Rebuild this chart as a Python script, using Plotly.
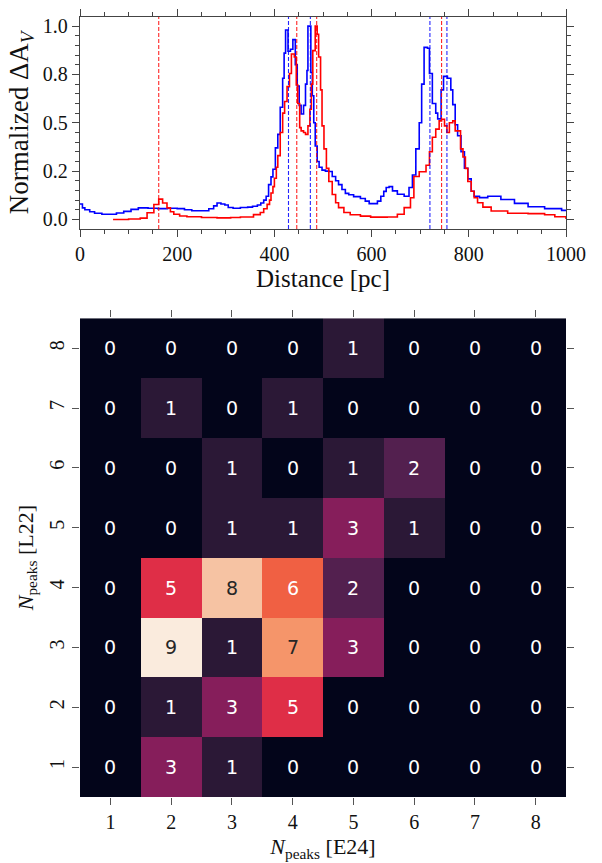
import plotly.graph_objects as go

# ---- Extinction profiles along the line of sight ----
# E24 (blue) and L22 (red): distance [pc] and normalized ΔA_V
dist_e24 = [0, 5, 10, 20, 30, 45, 60, 75, 90, 105, 120, 140, 160, 180, 200, 215, 230, 250,
            265, 275, 282, 290, 298, 305, 315, 330, 345, 355, 365, 372, 378, 383, 388, 393,
            397, 402, 407, 412, 417, 420, 423, 428, 433, 438, 443, 447, 451, 455, 460, 464,
            467, 469, 475, 478, 481, 484, 488, 492, 498, 505, 512, 519, 526, 532, 539, 546,
            553, 563, 577, 587, 595, 605, 612, 619, 625, 630, 636, 643, 653, 667, 677, 684,
            691, 698, 703, 708, 715, 719, 725, 732, 736, 743, 748, 756, 763, 767, 772, 777,
            784, 791, 798, 805, 811, 822, 839, 866, 894, 922, 956, 991, 1000]
dav_e24 = [0.08, 0.06, 0.05, 0.04, 0.032, 0.027, 0.027, 0.033, 0.042, 0.052, 0.06, 0.058,
           0.056, 0.058, 0.056, 0.05, 0.045, 0.045, 0.055, 0.07, 0.085, 0.08, 0.075, 0.062,
           0.058, 0.062, 0.064, 0.068, 0.075, 0.085, 0.1, 0.12, 0.18, 0.22, 0.26, 0.37, 0.44,
           0.58, 0.73, 0.86, 0.98, 0.87, 0.88, 0.93, 0.8, 0.69, 0.59, 0.545, 0.59, 0.7, 0.77,
           1.0, 0.76, 0.64, 0.5, 0.38, 0.3, 0.27, 0.255, 0.25, 0.248, 0.222, 0.2, 0.18, 0.155,
           0.135, 0.128, 0.118, 0.108, 0.095, 0.082, 0.082, 0.095, 0.12, 0.145, 0.165, 0.17,
           0.148, 0.13, 0.12, 0.165, 0.23, 0.365, 0.5, 0.7, 0.89, 0.885, 0.755, 0.6, 0.55,
           0.52, 0.67, 0.74, 0.73, 0.67, 0.594, 0.49, 0.433, 0.35, 0.265, 0.21, 0.146, 0.12,
           0.113, 0.12, 0.103, 0.083, 0.066, 0.056, 0.047, 0.047]

dist_l22 = [68, 100, 124, 138, 152, 162, 170, 179, 186, 193, 205, 220, 250, 282, 310, 330,
            357, 371, 378, 385, 390, 393, 397, 400, 404, 407, 412, 417, 421, 426, 431, 435,
            441, 445, 448, 452, 455, 460, 464, 469, 473, 476, 479, 484, 488, 491, 495, 498,
            502, 507, 512, 519, 526, 532, 543, 556, 577, 598, 632, 653, 667, 680, 687, 698,
            712, 719, 725, 732, 739, 744, 750, 755, 760, 767, 772, 777, 783, 788, 793, 798,
            805, 811, 818, 829, 846, 880, 922, 956, 977, 1000]
dav_l22 = [0.0, 0.002, 0.007, 0.035, 0.077, 0.105, 0.085, 0.06, 0.04, 0.027, 0.018, 0.014,
           0.01, 0.008, 0.01, 0.013, 0.025, 0.036, 0.055, 0.078, 0.1, 0.137, 0.17, 0.213,
           0.27, 0.33, 0.45, 0.55, 0.61, 0.687, 0.755, 0.856, 0.84, 0.695, 0.6, 0.475, 0.458,
           0.45, 0.44, 0.484, 0.57, 0.7, 0.873, 1.0, 0.958, 0.84, 0.67, 0.484, 0.365, 0.264,
           0.196, 0.129, 0.086, 0.061, 0.036, 0.024, 0.017, 0.012, 0.013, 0.027, 0.061,
           0.112, 0.222, 0.247, 0.28, 0.35, 0.425, 0.467, 0.51, 0.518, 0.484, 0.45, 0.5,
           0.51, 0.458, 0.458, 0.365, 0.323, 0.264, 0.196, 0.146, 0.112, 0.086, 0.064, 0.044,
           0.032, 0.03, 0.024, 0.014, 0.002]

# Distances of the identified peaks
peaks_e24 = [429, 474, 720, 755]
peaks_l22 = [162, 446, 487, 744]

# ---- Peak-count comparison ----
npeaks = [1, 2, 3, 4, 5, 6, 7, 8]
# rows: N_peaks [L22] = 1..8, columns: N_peaks [E24] = 1..8
counts = [
    [0, 3, 1, 0, 0, 0, 0, 0],
    [0, 1, 3, 5, 0, 0, 0, 0],
    [0, 9, 1, 7, 3, 0, 0, 0],
    [0, 5, 8, 6, 2, 0, 0, 0],
    [0, 0, 1, 1, 3, 1, 0, 0],
    [0, 0, 1, 0, 1, 2, 0, 0],
    [0, 1, 0, 1, 0, 0, 0, 0],
    [0, 0, 0, 0, 1, 0, 0, 0],
]

y_ticks = [0, 0.25, 0.5, 0.75, 1.0]
y_ticktext = ["0.0", "0.2", "0.5", "0.8", "1.0"]

SERIF = "Liberation Serif, DejaVu Serif, serif"
INK = "#111111"
AXC = "#444444"

rocket = [
    [0.0, "#03051A"], [1 / 9, "#2B1836"], [2 / 9, "#53204F"], [3 / 9, "#861E5B"],
    [4 / 9, "#B3175A"], [5 / 9, "#DF2E47"], [6 / 9, "#F06043"], [7 / 9, "#F5956A"],
    [8 / 9, "#F6C3A3"], [1.0, "#FAEBDD"],
]

fig = go.Figure()

fig.add_trace(go.Scatter(x=dist_e24, y=dav_e24, mode="lines", line_shape="hv",
                         line=dict(color="#0000FF", width=1.6), showlegend=False,
                         xaxis="x", yaxis="y"))
fig.add_trace(go.Scatter(x=dist_l22, y=dav_l22, mode="lines", line_shape="hv",
                         line=dict(color="#FF0000", width=1.6), showlegend=False,
                         xaxis="x", yaxis="y"))

for d in peaks_e24:
    fig.add_shape(type="line", x0=d, x1=d, y0=0, y1=1, xref="x", yref="y domain",
                  line=dict(color="#0000FF", width=1.1, dash="4px,2px"), opacity=0.85)
for d in peaks_l22:
    fig.add_shape(type="line", x0=d, x1=d, y0=0, y1=1, xref="x", yref="y domain",
                  line=dict(color="#FF0000", width=1.1, dash="4px,2px"), opacity=0.85)

fig.add_trace(go.Heatmap(x=npeaks, y=npeaks, z=counts, colorscale=rocket, zmin=0, zmax=9,
                         showscale=False, xgap=0, ygap=0, hoverinfo="skip",
                         xaxis="x2", yaxis="y2"))

for i, row in enumerate(counts):
    for j, v in enumerate(row):
        fig.add_annotation(x=npeaks[j], y=npeaks[i], xref="x2", yref="y2", text=str(v),
                           showarrow=False,
                           font=dict(family="DejaVu Sans", size=19,
                                     color="#262626" if v >= 7 else "white"))

top_dom = [0.7283, 1.0]
hm_dom = [0.0, 0.6138]
tick_font = dict(family=SERIF, size=20, color=INK)

fig.update_layout(
    width=602, height=863,
    margin=dict(l=80, r=36, t=9, b=59),
    paper_bgcolor="white", plot_bgcolor="white",
    font=dict(family=SERIF, size=20, color=INK),
    xaxis=dict(domain=[0, 1], range=[0, 1000], tickvals=[0, 200, 400, 600, 800, 1000],
               ticks="outside", ticklen=7, tickwidth=1.2, tickcolor=AXC,
               minor=dict(dtick=50, ticks="outside", ticklen=4, tickwidth=1, tickcolor=AXC),
               showline=True, linecolor=AXC, linewidth=1.3, mirror="allticks",
               showgrid=False, zeroline=False,
               title=dict(text="Distance [pc]", font=dict(family=SERIF, size=25), standoff=4),
               tickfont=tick_font, anchor="y"),
    yaxis=dict(domain=top_dom, range=[-0.049, 1.047], tickvals=y_ticks, ticktext=y_ticktext,
               ticks="outside", ticklen=7, tickwidth=1.2, tickcolor=AXC,
               minor=dict(dtick=0.05, ticks="outside", ticklen=4, tickwidth=1, tickcolor=AXC),
               showline=True, linecolor=AXC, linewidth=1.3, mirror="allticks",
               showgrid=False, zeroline=False,
               title=dict(text="Normalized ΔA<sub><i>V</i></sub>",
                          font=dict(family=SERIF, size=27), standoff=6),
               tickfont=tick_font, anchor="x"),
    xaxis2=dict(domain=[0, 1], range=[0.5, 8.5], tickvals=npeaks,
                ticks="outside", ticklen=7, tickwidth=1.2, tickcolor="#555555",
                showline=False, mirror="ticks", showgrid=False, zeroline=False,
                title=dict(text="<i>N</i><sub>peaks</sub> [E24]",
                           font=dict(family=SERIF, size=22), standoff=6),
                tickfont=tick_font, anchor="y2"),
    yaxis2=dict(domain=hm_dom, range=[0.5, 8.5], tickvals=npeaks, tickangle=-90,
                ticks="outside", ticklen=7, tickwidth=1.2, tickcolor="#555555",
                showline=False, mirror="ticks", showgrid=False, zeroline=False,
                title=dict(text="<i>N</i><sub>peaks</sub> [L22]",
                           font=dict(family=SERIF, size=22), standoff=6),
                tickfont=tick_font, anchor="x2"),
)

fig.write_html("out.html")
